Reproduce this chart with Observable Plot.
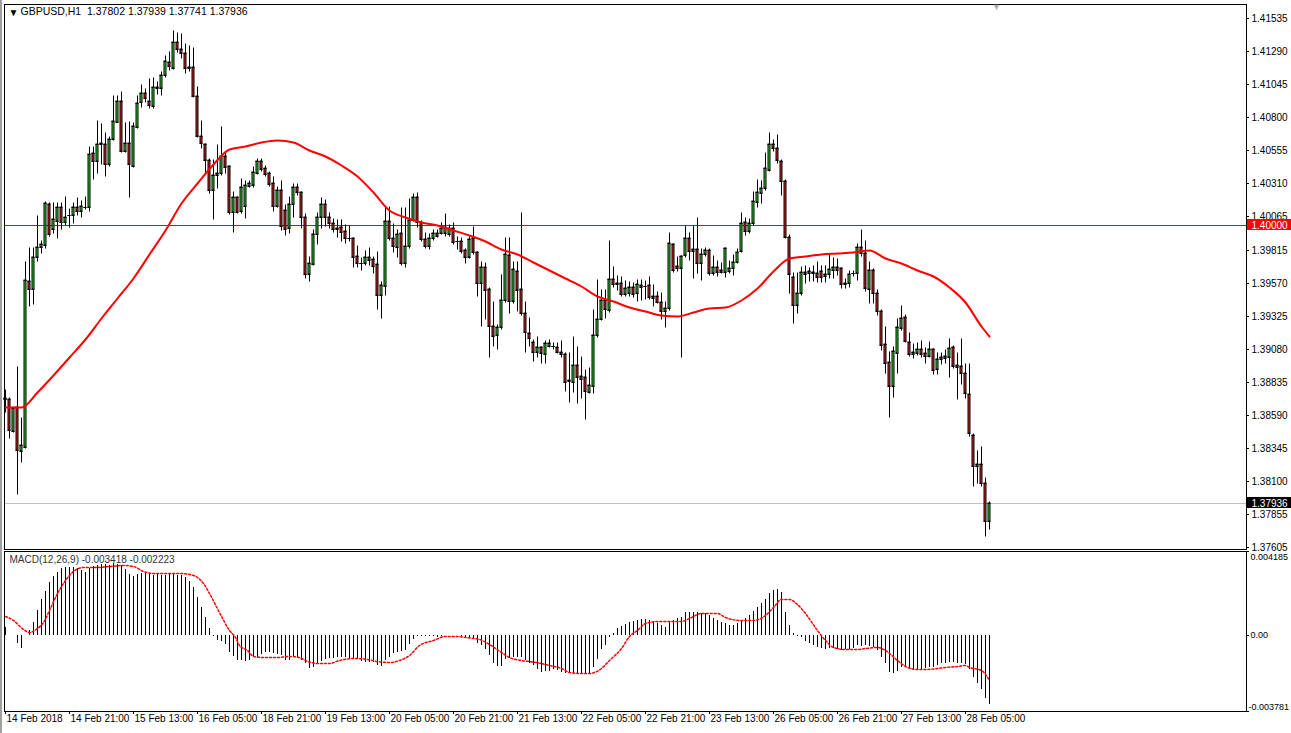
<!DOCTYPE html>
<html><head><meta charset="utf-8">
<script src="https://cdn.jsdelivr.net/npm/d3@7"></script>
<script src="https://cdn.jsdelivr.net/npm/@observablehq/plot@0.6"></script>
<style>
html,body{margin:0;padding:0;background:#fff;overflow:hidden;}
#wrap{position:relative;width:1291px;height:733px;overflow:hidden;background:#fff;}
#wrap svg{position:absolute;left:0;}
#edge{position:absolute;left:0;top:0;width:2px;height:733px;background:#a0a0a0;}
</style></head><body><div id="wrap"><div id="edge"></div></div>
<script>
// ---------- DATA ----------
const symbol = "GBPUSD,H1";
const dateLabels = ["14 Feb 2018","14 Feb 21:00","15 Feb 13:00","16 Feb 05:00","18 Feb 21:00","19 Feb 13:00","20 Feb 05:00","20 Feb 21:00","21 Feb 13:00","22 Feb 05:00","22 Feb 21:00","23 Feb 13:00","26 Feb 05:00","26 Feb 21:00","27 Feb 13:00","28 Feb 05:00"];
const dateBars = [0,16,32,48,64,80,96,112,128,144,160,176,192,208,224,240];
const priceTicks = [1.41535,1.41290,1.41045,1.40800,1.40555,1.40310,1.40065,1.39815,1.39570,1.39325,1.39080,1.38835,1.38590,1.38345,1.38100,1.37855,1.37605];
const levelLine = 1.40000;
const macdTop = 0.004185, macdBottom = -0.003781;
const macdTickLabels = ["0.004185","0.00","-0.003781"];

const open = [
1.38712,1.38707,1.38469,1.38649,1.38318,1.38352,1.39582,1.39521,1.39763,1.39835,
1.39850,1.40152,1.39966,1.40030,1.40130,1.40018,1.40070,1.40070,1.40130,1.40105,
1.40135,1.40135,1.40535,1.40471,1.40597,1.40597,1.40449,1.40635,1.40764,1.40921,
1.40548,1.40605,1.40433,1.40728,1.40909,1.40976,1.40919,1.40882,1.41013,1.41013,
1.41112,1.41211,1.41166,1.41359,1.41303,1.41273,1.41170,1.41170,1.40956,1.40662,
1.40597,1.40481,1.40256,1.40367,1.40382,1.40511,1.40436,1.40093,1.40208,1.40102,
1.40142,1.40290,1.40295,1.40386,1.40476,1.40419,1.40382,1.40308,1.40142,1.40258,
1.40110,1.39976,1.40152,1.40278,1.40241,1.40055,1.39635,1.39709,1.39929,1.40060,
1.40152,1.40060,1.40015,1.39974,1.39981,1.39952,1.39904,1.39900,1.39768,1.39718,
1.39718,1.39758,1.39743,1.39706,1.39479,1.39548,1.40028,1.39899,1.39833,1.39941,
1.39714,1.39842,1.40035,1.40204,1.40023,1.39892,1.39842,1.39900,1.39937,1.39941,
1.39941,1.39931,1.39974,1.39880,1.39880,1.39813,1.39763,1.39899,1.39796,1.39565,
1.39684,1.39521,1.39251,1.39182,1.39244,1.39441,1.39773,1.39436,1.39657,1.39521,
1.39343,1.39194,1.39127,1.39053,1.39090,1.39041,1.39103,1.39103,1.39090,1.39058,
1.39038,1.38850,1.38835,1.38959,1.38877,1.38872,1.38761,1.38805,1.39181,1.39300,
1.39441,1.39367,1.39595,1.39565,1.39565,1.39484,1.39491,1.39536,1.39491,1.39553,
1.39546,1.39553,1.39471,1.39471,1.39429,1.39362,1.39380,1.39855,1.39677,1.39682,
1.39776,1.39899,1.39805,1.39818,1.39718,1.39781,1.39813,1.39640,1.39689,1.39664,
1.39652,1.39657,1.39677,1.39726,1.39808,1.40018,1.39954,1.40011,1.40171,1.40238,
1.40271,1.40407,1.40600,1.40568,1.40476,1.40327,1.39911,1.39610,1.39404,1.39491,
1.39652,1.39640,1.39652,1.39640,1.39657,1.39622,1.39632,1.39664,1.39684,1.39676,
1.39558,1.39565,1.39640,1.39640,1.39833,1.39788,1.39521,1.39664,1.39491,1.39362,
1.39115,1.38984,1.38805,1.39050,1.39231,1.39313,1.39127,1.39038,1.39046,1.39075,
1.39050,1.39028,1.39075,1.38927,1.39001,1.39014,1.39016,1.39090,1.38959,1.38952,
1.38897,1.38744,1.38439,1.38211,1.38224,1.38080,1.37802];
const high = [
1.38773,1.38715,1.38650,1.38946,1.38565,1.39726,1.39830,1.39825,1.40065,1.39880,
1.40172,1.40165,1.40164,1.40164,1.40164,1.40206,1.40119,1.40160,1.40196,1.40180,
1.40208,1.40580,1.40580,1.40773,1.40748,1.40679,1.40650,1.40956,1.40956,1.40988,
1.40758,1.40765,1.40755,1.40955,1.41038,1.41005,1.41084,1.41090,1.41062,1.41136,
1.41253,1.41283,1.41438,1.41426,1.41414,1.41342,1.41327,1.41310,1.41021,1.40770,
1.40600,1.40490,1.40481,1.40592,1.40724,1.40531,1.40440,1.40245,1.40210,1.40337,
1.40327,1.40327,1.40427,1.40491,1.40491,1.40438,1.40391,1.40357,1.40280,1.40327,
1.40147,1.40208,1.40302,1.40302,1.40245,1.40080,1.39758,1.39960,1.40085,1.40201,
1.40184,1.40090,1.40045,1.40035,1.40035,1.39996,1.39991,1.39900,1.39842,1.39751,
1.39807,1.39825,1.39758,1.39796,1.39578,1.40130,1.40130,1.40004,1.39961,1.40122,
1.40127,1.40189,1.40228,1.40234,1.40030,1.39937,1.39931,1.39961,1.39961,1.40010,
1.40080,1.40000,1.40015,1.39911,1.39900,1.39818,1.39911,1.39986,1.39800,1.39726,
1.39720,1.39530,1.39429,1.39256,1.39627,1.39900,1.39900,1.39722,1.39722,1.40085,
1.39429,1.39306,1.39144,1.39167,1.39095,1.39140,1.39147,1.39120,1.39120,1.39140,
1.39046,1.39046,1.39169,1.39095,1.39021,1.38922,1.38934,1.39367,1.39590,1.39516,
1.39516,1.39880,1.39684,1.39620,1.39610,1.39580,1.39573,1.39570,1.39590,1.39590,
1.39580,1.39610,1.39553,1.39500,1.39491,1.39429,1.39937,1.39860,1.39762,1.39770,
1.39991,1.39937,1.39991,1.40048,1.39818,1.39830,1.39820,1.39766,1.39731,1.39714,
1.39830,1.39731,1.39776,1.39820,1.40085,1.40048,1.40040,1.40246,1.40332,1.40325,
1.40531,1.40679,1.40630,1.40666,1.40480,1.40330,1.39924,1.39640,1.39640,1.39684,
1.39694,1.39680,1.39694,1.39722,1.39694,1.39694,1.39776,1.39750,1.39745,1.39680,
1.39600,1.39660,1.39660,1.39857,1.39961,1.39880,1.39722,1.39670,1.39516,1.39370,
1.39243,1.39058,1.39095,1.39300,1.39397,1.39330,1.39194,1.39113,1.39120,1.39140,
1.39083,1.39130,1.39080,1.39046,1.39046,1.39070,1.39152,1.39100,1.39046,1.39150,
1.38964,1.38970,1.38450,1.38320,1.38348,1.38118,1.37939];
const low = [
1.38612,1.38417,1.38460,1.38001,1.38241,1.38340,1.39399,1.39412,1.39733,1.39790,
1.39825,1.39920,1.39937,1.39904,1.39968,1.39997,1.39986,1.40011,1.40070,1.40060,
1.40115,1.40105,1.40340,1.40386,1.40451,1.40364,1.40440,1.40630,1.40760,1.40540,
1.40540,1.40208,1.40430,1.40720,1.40877,1.40915,1.40865,1.40870,1.40971,1.40964,
1.41100,1.41149,1.41160,1.41285,1.41236,1.41129,1.41140,1.40946,1.40650,1.40568,
1.40382,1.40238,1.40040,1.40271,1.40370,1.40386,1.40080,1.39948,1.40090,1.40090,
1.40052,1.40280,1.40278,1.40380,1.40400,1.40360,1.40290,1.40105,1.40130,1.39961,
1.39924,1.39937,1.40060,1.40220,1.39974,1.39603,1.39585,1.39700,1.39857,1.39974,
1.39991,1.39974,1.39950,1.39911,1.39879,1.39862,1.39882,1.39689,1.39689,1.39664,
1.39700,1.39701,1.39640,1.39372,1.39306,1.39476,1.39890,1.39800,1.39758,1.39700,
1.39689,1.39830,1.40030,1.39986,1.39880,1.39830,1.39818,1.39890,1.39910,1.39930,
1.39917,1.39920,1.39860,1.39818,1.39790,1.39714,1.39750,1.39780,1.39471,1.39251,
1.39300,1.39020,1.39100,1.39076,1.39230,1.39430,1.39343,1.39420,1.39360,1.39330,
1.39058,1.39100,1.38991,1.39020,1.38972,1.38972,1.39090,1.39080,1.39050,1.39020,
1.38768,1.38687,1.38761,1.38676,1.38712,1.38556,1.38749,1.38753,1.39170,1.39290,
1.39306,1.39350,1.39540,1.39516,1.39470,1.39470,1.39470,1.39466,1.39434,1.39440,
1.39450,1.39450,1.39395,1.39420,1.39298,1.39238,1.39370,1.39650,1.39660,1.39020,
1.39760,1.39738,1.39603,1.39644,1.39590,1.39770,1.39630,1.39630,1.39620,1.39640,
1.39615,1.39640,1.39627,1.39720,1.39800,1.39924,1.39940,1.40000,1.40134,1.40159,
1.40260,1.40400,1.40550,1.40457,1.40221,1.39900,1.39496,1.39268,1.39343,1.39480,
1.39565,1.39580,1.39582,1.39573,1.39573,1.39573,1.39608,1.39608,1.39628,1.39528,
1.39530,1.39540,1.39620,1.39590,1.39770,1.39510,1.39417,1.39417,1.39330,1.39070,
1.38897,1.38570,1.38724,1.38897,1.39220,1.39130,1.39026,1.39009,1.39030,1.39020,
1.38976,1.39020,1.38892,1.38892,1.38966,1.38975,1.38872,1.38940,1.38706,1.38818,
1.38716,1.38430,1.38063,1.38080,1.38060,1.37691,1.37741];
const close = [
1.38707,1.38476,1.38640,1.38328,1.38365,1.39590,1.39525,1.39758,1.39833,1.39857,
1.40160,1.39929,1.40041,1.40130,1.40023,1.40059,1.40075,1.40130,1.40105,1.40140,
1.40135,1.40523,1.40471,1.40597,1.40605,1.40451,1.40637,1.40770,1.40921,1.40548,
1.40605,1.40449,1.40733,1.40902,1.40976,1.40943,1.40887,1.41025,1.41025,1.41112,
1.41216,1.41179,1.41359,1.41303,1.41273,1.41162,1.41165,1.40956,1.40662,1.40605,
1.40481,1.40258,1.40370,1.40382,1.40511,1.40431,1.40093,1.40208,1.40097,1.40278,
1.40295,1.40312,1.40394,1.40476,1.40412,1.40377,1.40303,1.40142,1.40258,1.39993,
1.39968,1.40152,1.40278,1.40241,1.40055,1.39635,1.39714,1.39929,1.40060,1.40152,
1.40060,1.40015,1.39971,1.39972,1.39949,1.39904,1.39900,1.39763,1.39718,1.39718,
1.39758,1.39738,1.39696,1.39479,1.39553,1.40028,1.39899,1.39842,1.39929,1.39714,
1.39842,1.40035,1.40204,1.40023,1.39892,1.39842,1.39900,1.39941,1.39920,1.39974,
1.39981,1.39974,1.39870,1.39877,1.39808,1.39763,1.39892,1.39796,1.39565,1.39684,
1.39516,1.39251,1.39174,1.39239,1.39441,1.39783,1.39436,1.39672,1.39516,1.39343,
1.39206,1.39157,1.39053,1.39090,1.39046,1.39120,1.39120,1.39100,1.39058,1.39038,
1.38835,1.38840,1.38959,1.38868,1.38855,1.38768,1.38810,1.39181,1.39300,1.39441,
1.39372,1.39595,1.39558,1.39558,1.39484,1.39528,1.39536,1.39484,1.39558,1.39540,
1.39544,1.39466,1.39458,1.39429,1.39362,1.39380,1.39862,1.39664,1.39694,1.39768,
1.39899,1.39805,1.39818,1.39718,1.39781,1.39813,1.39640,1.39689,1.39652,1.39652,
1.39825,1.39677,1.39726,1.39800,1.40011,1.39954,1.40011,1.40176,1.40246,1.40271,
1.40419,1.40600,1.40573,1.40481,1.40327,1.39911,1.39635,1.39404,1.39496,1.39652,
1.39635,1.39657,1.39640,1.39615,1.39615,1.39635,1.39669,1.39684,1.39664,1.39558,
1.39570,1.39635,1.39645,1.39833,1.39788,1.39528,1.39664,1.39491,1.39362,1.39107,
1.38972,1.38805,1.39063,1.39244,1.39306,1.39139,1.39038,1.39055,1.39080,1.39038,
1.39028,1.39075,1.38922,1.39001,1.39021,1.39026,1.39083,1.38952,1.38947,1.38902,
1.38749,1.38452,1.38211,1.38224,1.38080,1.37802,1.37936];

// moving average (red line), read at every 4th bar
const maBar = [0,4,8,12,16,20,24,28,32,36,40,44,48,52,56,60,64,68,72,76,80,84,88,92,96,100,104,108,112,116,120,124,128,132,136,140,144,148,152,156,160,164,168,172,176,180,184,188,192,196,200,204,208,212,216,220,224,228,232,236,240,244,246];
const maVal = [1.38649,1.38649,1.38756,1.38886,1.39018,1.39152,1.39308,1.39456,1.39605,1.39783,1.39961,1.40163,1.40314,1.40455,1.40566,1.40588,1.40612,1.40632,1.40616,1.40557,1.40511,1.40444,1.40361,1.40240,1.40113,1.40055,1.40021,1.39996,1.39960,1.39926,1.39882,1.39817,1.39784,1.39725,1.39666,1.39606,1.39548,1.39473,1.39431,1.39392,1.39363,1.39329,1.39323,1.39352,1.39379,1.39389,1.39441,1.39530,1.39660,1.39756,1.39770,1.39781,1.39791,1.39799,1.39810,1.39757,1.39714,1.39666,1.39619,1.39540,1.39427,1.39252,1.39174];

// MACD(12,26,9) histogram, one per bar
const macd = [
0.000415,0.00002,0.00002,-0.000382,-0.000631,0.00002,0.000249,0.000664,0.001245,0.001793,
0.002208,0.002656,0.002938,0.003154,0.003353,0.003370,0.003403,0.003403,0.003320,0.003237,
0.003154,0.003320,0.003436,0.003486,0.003536,0.003536,0.003486,0.003569,0.003536,0.003486,
0.003270,0.003038,0.002955,0.003038,0.003071,0.003071,0.003038,0.002988,0.003038,0.002988,
0.002988,0.003071,0.003038,0.002988,0.002988,0.002905,0.002689,0.002407,0.001909,0.001378,
0.000913,0.000365,-0.000050,-0.000249,-0.000282,-0.000448,-0.000830,-0.001046,-0.001245,-0.001245,
-0.001278,-0.001245,-0.001112,-0.001079,-0.000946,-0.000830,-0.000830,-0.000913,-0.000963,-0.000996,
-0.001245,-0.001245,-0.001079,-0.001112,-0.001245,-0.001411,-0.001660,-0.001610,-0.001444,-0.001295,
-0.001212,-0.001162,-0.001162,-0.001112,-0.001079,-0.001112,-0.001162,-0.001162,-0.001162,-0.001278,
-0.001328,-0.001328,-0.001328,-0.001494,-0.001544,-0.001245,-0.001079,-0.000913,-0.000830,-0.000780,
-0.000747,-0.000448,-0.000216,-0.000050,-0.000050,-0.000050,-0.000050,-0.000050,-0.000083,-0.000050,
-0.000017,-0.000017,-0.000017,-0.000017,-0.000050,-0.000116,-0.000166,-0.000216,-0.000415,-0.000498,
-0.000714,-0.000996,-0.001378,-0.001544,-0.001544,-0.001212,-0.001162,-0.001112,-0.001079,-0.001112,
-0.001245,-0.001411,-0.001494,-0.001710,-0.001826,-0.001776,-0.001776,-0.001710,-0.001743,-0.001826,
-0.001876,-0.001876,-0.001876,-0.001876,-0.001876,-0.001909,-0.001942,-0.001610,-0.001212,-0.000714,
-0.000498,-0.000083,0.000083,0.000332,0.000448,0.000548,0.000664,0.000714,0.000747,0.000797,
0.000797,0.000747,0.000714,0.000614,0.000498,0.000415,0.000664,0.000747,0.000830,0.000913,
0.001162,0.001162,0.001162,0.001162,0.001112,0.001079,0.000996,0.000830,0.000747,0.000664,
0.000581,0.000498,0.000498,0.000581,0.000747,0.000830,0.000996,0.001212,0.001411,0.001577,
0.001776,0.002075,0.002241,0.002274,0.002158,0.001162,0.000498,0.000083,-0.000050,-0.000116,
-0.000282,-0.000415,-0.000498,-0.000581,-0.000664,-0.000714,-0.000664,-0.000664,-0.000714,-0.000747,
-0.000714,-0.000714,-0.000664,-0.000498,-0.000548,-0.000498,-0.000548,-0.000581,-0.000747,-0.001079,
-0.001411,-0.001826,-0.001876,-0.001776,-0.001610,-0.001610,-0.001710,-0.001743,-0.001710,-0.001710,
-0.001660,-0.001610,-0.001610,-0.001494,-0.001411,-0.001378,-0.001328,-0.001328,-0.001378,-0.001411,
-0.001444,-0.001710,-0.002108,-0.002407,-0.002706,-0.003154,-0.003418];

// MACD signal line (red dotted)
const sigBar = [0,2,4.5,6,8,9.5,11,13,15,17,19.5,23,26,29.5,32,34.5,37,40,43.5,46,48,49.5,51,53.5,56,57.5,58.5,60.5,62,64.5,68,71,73.5,75,78,81,83.5,87,90.5,93,96,98.5,101,103.5,107,110,113,115,118.5,121,124,126,129,131,134,136,139,141,144,146,149,151,154,156,158,160,163,166,169,171,174,178,180,184,187,190,192,194,196,198,200,203,205,207,210,213,215,218,220,223,225,228,230,233,235,238,240,241,244,246];
const sigVal = [0.000946,0.000747,0.000282,0.000166,0.000332,0.000664,0.001245,0.002075,0.002739,0.003204,0.003370,0.003403,0.003453,0.003486,0.003436,0.003204,0.003104,0.003071,0.003071,0.003038,0.002905,0.002573,0.002075,0.001162,0.000249,-0.000083,-0.000498,-0.000747,-0.001046,-0.001112,-0.001112,-0.001046,-0.001079,-0.001245,-0.001378,-0.001378,-0.001245,-0.001162,-0.001212,-0.001278,-0.001328,-0.001245,-0.000996,-0.000498,-0.000249,-0.000050,-0.000050,-0.000083,-0.000216,-0.000440,-0.000830,-0.001079,-0.001245,-0.001295,-0.001411,-0.001494,-0.001660,-0.001826,-0.001876,-0.001876,-0.001660,-0.001245,-0.000664,-0.000050,0.000249,0.000581,0.000714,0.000714,0.000714,0.000830,0.001079,0.001079,0.000913,0.000747,0.000747,0.000996,0.001411,0.001776,0.001776,0.001544,0.001079,0.000249,-0.000249,-0.000581,-0.000714,-0.000714,-0.000664,-0.000614,-0.000747,-0.001245,-0.001544,-0.001710,-0.001710,-0.001660,-0.001610,-0.001544,-0.001494,-0.001577,-0.001743,-0.002223];

// ---------- BUILD ----------
const BULL = "#32cd32", BEAR = "#e01e1e";
const font = "'Liberation Sans', Arial, sans-serif";
const n = open.length;
const bars = open.map((o, i) => ({i, o, c: close[i], h: Math.max(high[i], o, close[i]), l: Math.min(low[i], o, close[i])}));
const maData = maBar.map((b, i) => ({i: b, v: maVal[i]}));
const hist = macd.map((v, i) => ({i, v}));
const sig = sigBar.map((b, i) => ({i: b, v: sigVal[i]}));
const last = bars[n - 1];
const header = `${symbol}  ${[last.o, last.h, last.l, last.c].map(v => v.toFixed(5)).join(" ")}`;
const macdLabel = `MACD(12,26,9) ${macd[n - 1].toFixed(6)} ${sigVal[sigVal.length - 1].toFixed(6)}`;

const XDOM = [0, 310.25];
const style = {fontFamily: font, fontSize: "10px", background: "transparent", overflow: "visible", maxWidth: "none"};
const lbl = (v) => ({x1: 310.5, x2: 323, y1: v, y2: v});

const main = Plot.plot({
  width: 1291, height: 551,
  marginLeft: 5, marginRight: 45, marginTop: 5, marginBottom: 2,
  style,
  x: {type: "linear", domain: XDOM, axis: null},
  y: {type: "linear", domain: [1.37593, 1.41632], axis: null, round: true},
  marks: [
    Plot.ruleY([levelLine], {stroke: "#ff0000"}),
    Plot.ruleY([last.c], {stroke: "#c0c0c0"}),
    Plot.ruleX(bars, {x: "i", y1: "l", y2: "h", stroke: "#000", strokeLinecap: "square"}),
    Plot.rect(bars, {x1: d => d.i - 0.25, x2: d => d.i + 0.25, y1: "o", y2: "c", fill: d => d.c >= d.o ? BULL : BEAR, stroke: "#000"}),
    Plot.ruleY(bars, {y: "o", x1: d => d.i - 0.25, x2: d => d.i + 0.25, stroke: "#000", strokeLinecap: "square"}),
    Plot.ruleY(bars, {y: "c", x1: d => d.i - 0.25, x2: d => d.i + 0.25, stroke: "#000", strokeLinecap: "square"}),
    Plot.line(maData, {x: "i", y: "v", stroke: "#ff0000", strokeWidth: 2, curve: "monotone-x"}),
    Plot.frame({stroke: "#000", insetLeft: -1, insetTop: -1}),
    Plot.ruleY(priceTicks, {x1: 310.25, x2: 311, stroke: "#000"}),
    Plot.text(priceTicks, {y: d => d, text: d => d.toFixed(5), frameAnchor: "right", textAnchor: "start", dx: 5, fill: "#000"}),
    Plot.rect([levelLine], {...lbl(d => d), insetTop: -6, insetBottom: -5, fill: "#ff0000"}),
    Plot.text([levelLine], {y: d => d, text: d => d.toFixed(5), frameAnchor: "right", textAnchor: "start", dx: 5, fill: "#fff"}),
    Plot.rect([last.c], {...lbl(d => d), insetTop: -6, insetBottom: -5, fill: "#000"}),
    Plot.text([last.c], {y: d => d, text: d => d.toFixed(5), frameAnchor: "right", textAnchor: "start", dx: 5, fill: "#fff"}),
    Plot.text(["▼"], {frameAnchor: "top-left", dx: 3, dy: 3, fontSize: 10, fill: "#000"}),
    Plot.text([header], {frameAnchor: "top-left", dx: 15, dy: 2, fontSize: 10.5, fill: "#000"}),
    Plot.text(["▼"], {x: n + 0.75, frameAnchor: "top", dy: -2, fontSize: 9, fill: "#b0b0b0"})
  ]
});

const sub = Plot.plot({
  width: 1291, height: 182,
  marginLeft: 5, marginRight: 45, marginTop: 0, marginBottom: 22,
  style,
  x: {type: "linear", domain: XDOM, axis: null},
  y: {type: "linear", domain: [macdBottom, macdTop], axis: null, round: true},
  marks: [
    Plot.text([macdLabel], {frameAnchor: "top-left", dx: 4, dy: 4, fill: "#333"}),
    Plot.ruleX(hist, {x: "i", y1: 0, y2: "v", stroke: "#000"}),
    Plot.line(sig, {x: "i", y: "v", stroke: "#ff0000", strokeDasharray: "2,2", curve: "monotone-x"}),
    Plot.frame({stroke: "#000", insetLeft: -1}),
    Plot.ruleX(dateBars, {x: d => d, y1: macdBottom, y2: macdBottom - 0.00015, stroke: "#000"}),
    Plot.text(dateBars, {x: d => d, text: (d, i) => dateLabels[i], frameAnchor: "bottom", textAnchor: "start", dx: 1, dy: 10, fill: "#000"}),
    Plot.ruleY([macdTop, 0, macdBottom], {x1: 310.25, x2: 311, stroke: "#000"}),
    Plot.text([macdTop], {y: d => d, text: () => macdTickLabels[0], frameAnchor: "right", textAnchor: "start", lineAnchor: "top", dx: 4, dy: 2, fontSize: 9, fill: "#000"}),
    Plot.text([0], {y: d => d, text: () => macdTickLabels[1], frameAnchor: "right", textAnchor: "start", dx: 4, fontSize: 9, fill: "#000"}),
    Plot.text([macdBottom], {y: d => d, text: () => macdTickLabels[2], frameAnchor: "right", textAnchor: "start", lineAnchor: "bottom", dx: 2, dy: -2, fontSize: 9, fill: "#000"})
  ]
});

const wrap = document.getElementById("wrap");
main.style.top = "0px";
sub.style.top = "551px";
wrap.appendChild(main);
wrap.appendChild(sub);
</script></body></html>
